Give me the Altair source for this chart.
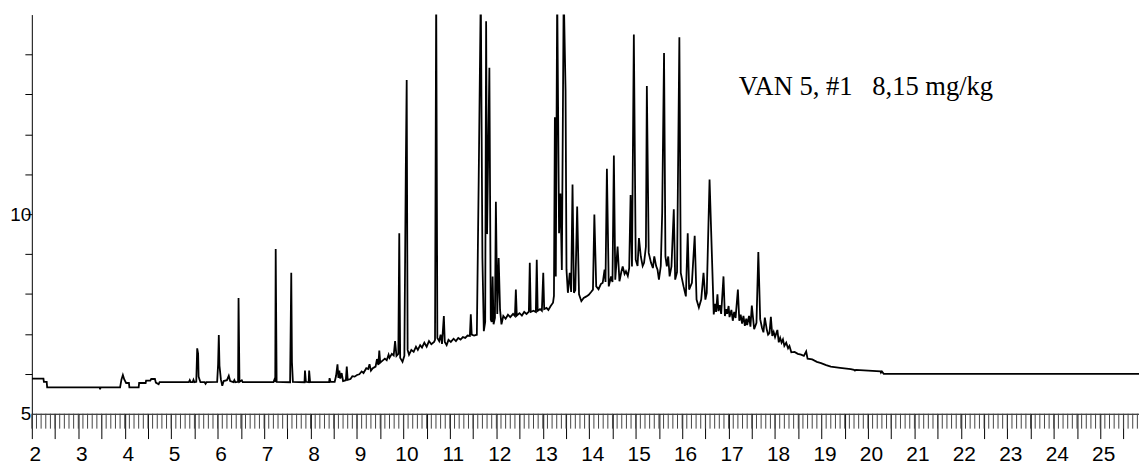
import altair as alt
import pandas as pd

# retention time (min) and detector signal
rt = [
    2.00, 2.25, 2.26, 2.32, 2.33, 3.46, 3.47, 3.48, 3.90, 3.93, 3.96, 3.99, 4.03, 4.09, 4.10,
    4.30, 4.31, 4.45, 4.46, 4.55, 4.57, 4.65, 4.67, 4.73, 4.75, 5.38, 5.40, 5.42, 5.46, 5.48,
    5.50, 5.54, 5.56, 5.58, 5.59, 5.61, 5.63, 5.72, 5.74, 5.76, 5.99, 6.01, 6.025, 6.04, 6.07,
    6.10, 6.13, 6.20, 6.24, 6.27, 6.34, 6.36, 6.38, 6.44, 6.45, 6.47, 6.52, 6.54, 7.20, 7.22,
    7.24, 7.25, 7.27, 7.56, 7.585, 7.60, 7.62, 7.87, 7.88, 7.90, 7.96, 7.97, 7.99, 8.40, 8.41,
    8.43, 8.52, 8.55, 8.58, 8.60, 8.62, 8.64, 8.67, 8.70, 8.76, 8.78, 8.80, 8.86, 8.90, 8.95,
    9.00, 9.05, 9.10, 9.14, 9.20, 9.24, 9.27, 9.30, 9.34, 9.40, 9.43, 9.46, 9.48, 9.50, 9.55,
    9.60, 9.64, 9.68, 9.70, 9.75, 9.79, 9.82, 9.85, 9.89, 9.91, 9.93, 9.98, 10.02, 10.05, 10.07,
    10.09, 10.12, 10.17, 10.22, 10.27, 10.31, 10.36, 10.40, 10.45, 10.50, 10.55, 10.60, 10.66, 10.68, 10.705,
    10.73, 10.77, 10.80, 10.83, 10.87, 10.89, 10.93, 10.97, 11.02, 11.08, 11.13, 11.18, 11.23, 11.28, 11.33,
    11.38, 11.43, 11.45, 11.47, 11.52, 11.58, 11.62, 11.665, 11.70, 11.73, 11.76, 11.78, 11.80, 11.85, 11.88,
    11.90, 11.92, 11.94, 11.97, 11.99, 12.02, 12.05, 12.08, 12.11, 12.15, 12.20, 12.25, 12.30, 12.36, 12.40,
    12.42, 12.44, 12.50, 12.55, 12.60, 12.65, 12.70, 12.72, 12.74, 12.80, 12.85, 12.87, 12.89, 12.94, 12.98,
    13.01, 13.03, 13.08, 13.12, 13.17, 13.22, 13.24, 13.26, 13.28, 13.31, 13.35, 13.38, 13.41, 13.45, 13.49,
    13.51, 13.54, 13.58, 13.61, 13.64, 13.67, 13.70, 13.74, 13.78, 13.83, 13.88, 13.94, 13.99, 14.04, 14.08,
    14.11, 14.15, 14.20, 14.25, 14.29, 14.33, 14.35, 14.38, 14.42, 14.47, 14.50, 14.53, 14.56, 14.61, 14.65,
    14.69, 14.72, 14.76, 14.79, 14.83, 14.86, 14.89, 14.92, 14.96, 15.00, 15.04, 15.07, 15.11, 15.15, 15.18,
    15.22, 15.24, 15.28, 15.33, 15.37, 15.40, 15.44, 15.47, 15.50, 15.54, 15.57, 15.61, 15.64, 15.67, 15.70,
    15.73, 15.77, 15.82, 15.85, 15.89, 15.94, 15.97, 16.03, 16.08, 16.12, 16.15, 16.21, 16.27, 16.31, 16.36,
    16.41, 16.46, 16.50, 16.53, 16.59, 16.63, 16.68, 16.71, 16.73, 16.76, 16.78, 16.81, 16.84, 16.89, 16.92,
    16.95, 16.97, 17.00, 17.02, 17.06, 17.09, 17.12, 17.15, 17.20, 17.23, 17.26, 17.29, 17.32, 17.35, 17.38,
    17.40, 17.44, 17.47, 17.50, 17.55, 17.60, 17.64, 17.68, 17.72, 17.75, 17.78, 17.82, 17.85, 17.88, 17.91,
    17.94, 17.97, 18.00, 18.05, 18.08, 18.11, 18.14, 18.17, 18.20, 18.24, 18.28, 18.31, 18.35, 18.42, 18.49,
    18.56, 18.62, 18.67, 18.70, 18.80, 18.90, 18.99, 19.10, 19.20, 19.40, 19.63, 19.70, 19.72, 19.74, 20.27,
    20.28, 20.30, 20.34, 25.84,
]

signal = [
    5.88, 5.88, 5.80, 5.80, 5.66, 5.66, 5.61, 5.66, 5.66, 5.86, 5.97, 5.86, 5.77, 5.77, 5.66,
    5.66, 5.77, 5.77, 5.83, 5.83, 5.87, 5.87, 5.78, 5.74, 5.79, 5.79, 5.84, 5.79, 5.79, 5.85,
    5.79, 5.80, 6.64, 6.50, 5.93, 5.86, 5.79, 5.79, 5.75, 5.79, 5.80, 6.24, 6.97, 6.20, 5.86,
    5.70, 5.82, 5.84, 5.95, 5.82, 5.79, 5.84, 5.79, 5.80, 7.90, 5.80, 5.84, 5.79, 5.79, 5.85,
    5.80, 9.13, 5.80, 5.79, 8.53, 6.29, 5.80, 5.79, 6.08, 5.80, 5.79, 6.08, 5.80, 5.79, 5.89,
    5.80, 5.80, 5.95, 6.24, 5.90, 6.08, 5.88, 6.02, 5.82, 5.84, 6.18, 5.85, 5.87, 5.94, 5.93,
    5.97, 5.99, 6.06, 6.02, 6.14, 6.12, 6.24, 6.08, 6.14, 6.18, 6.37, 6.22, 6.58, 6.28, 6.33,
    6.38, 6.34, 6.48, 6.40, 6.50, 6.46, 6.82, 6.45, 6.50, 9.52, 6.40, 6.30, 6.45, 11.02, 13.36,
    6.60, 6.48, 6.60, 6.55, 6.68, 6.60, 6.72, 6.66, 6.78, 6.68, 6.82, 6.74, 6.80, 6.85, 15.6,
    6.90, 6.82, 6.98, 6.75, 7.45, 6.80, 6.72, 6.85, 6.80, 6.88, 6.82, 6.90, 6.86, 6.92, 6.90,
    6.96, 6.95, 7.49, 6.98, 6.96, 6.98, 10.85, 15.6, 8.90, 7.07, 7.30, 14.83, 9.50, 13.67, 7.36,
    7.30, 8.44, 7.24, 7.40, 10.31, 7.50, 8.90, 7.60, 7.24, 7.45, 7.38, 7.48, 7.42, 7.50, 7.45,
    8.11, 7.46, 7.52, 7.46, 7.55, 7.50, 7.56, 8.78, 7.55, 7.58, 7.55, 8.86, 7.58, 7.62, 7.58,
    8.53, 7.62, 7.65, 7.60, 7.70, 7.78, 7.95, 12.43, 8.44, 15.6, 9.52, 10.52, 8.60, 15.6, 13.10,
    8.61, 8.03, 8.53, 8.05, 10.74, 8.03, 8.10, 10.19, 7.99, 7.82, 7.90, 7.94, 7.98, 8.05, 8.11,
    9.99, 8.19, 8.12, 8.25, 8.28, 8.61, 8.30, 11.14, 8.19, 8.44, 8.30, 11.47, 8.36, 9.19, 8.32,
    8.55, 8.69, 8.50, 8.57, 8.45, 8.65, 10.48, 8.69, 14.50, 8.86, 8.70, 9.40, 8.94, 8.70, 8.78,
    9.19, 13.21, 9.03, 8.78, 8.65, 8.94, 8.70, 8.61, 8.36, 8.70, 10.02, 14.04, 8.94, 8.69, 8.94,
    8.44, 8.69, 10.12, 8.36, 8.55, 14.43, 8.53, 8.19, 7.94, 9.52, 8.11, 8.28, 9.46, 7.86, 7.66,
    7.86, 8.53, 7.86, 8.03, 10.87, 9.36, 7.49, 7.75, 7.55, 7.99, 7.57, 7.72, 7.50, 8.44, 7.45,
    7.62, 7.50, 7.70, 7.42, 7.60, 7.33, 7.55, 7.40, 8.11, 7.33, 7.48, 7.26, 7.45, 7.20, 7.38,
    7.22, 7.45, 7.18, 7.71, 7.12, 7.28, 9.05, 7.37, 7.15, 7.04, 7.41, 7.12, 6.98, 7.02, 7.43,
    6.95, 7.05, 6.92, 7.10, 6.79, 6.90, 6.78, 6.86, 6.70, 6.78, 6.64, 6.70, 6.54, 6.55, 6.50,
    6.48, 6.45, 6.56, 6.38, 6.36, 6.30, 6.27, 6.22, 6.18, 6.15, 6.12, 6.10, 6.08, 6.10, 6.06,
    6.03, 6.06, 6.00, 6.00,
]

x_major_ticks = [2 + 0.5 * i for i in range(48)]            # long ticks every 0.5 min
x_minor_ticks = [round(2 + 0.1 * i, 1) for i in range(239)]  # short ticks every 0.1 min
y_ticks = [5, 6, 7, 8, 9, 10, 11, 12, 13, 14]
annotation = ["VAN 5, #1\u00a0\u00a0\u00a08,15 mg/kg"]

df = pd.DataFrame({"rt": rt, "signal": signal})
ticks_df = pd.DataFrame({"rt": x_minor_ticks})
ann_df = pd.DataFrame({"label": annotation})

W, H = 1115, 402
xscale = alt.Scale(domain=[2, 25.835], nice=False, zero=False)
yscale = alt.Scale(domain=[5, 15], nice=False, zero=False)

x_axis = alt.Axis(
    values=x_major_ticks,
    labelExpr="abs(datum.value - round(datum.value)) < 0.01 ? format(round(datum.value), 'd') : ''",
    tickSize=25, tickColor="black", tickWidth=1,
    domainColor="black", domainWidth=1,
    labelFont="Liberation Sans", labelFontSize=21, labelColor="black",
    labelPadding=5, labelOffset=3, labelFlush=False, labelOverlap=False,
    labelAngle=0, grid=False, title=None,
)

y_axis = alt.Axis(
    values=y_ticks,
    labelExpr="(datum.value == 5 || datum.value == 10) ? format(datum.value, 'd') : ''",
    tickSize=7, tickColor="black", tickWidth=1,
    tickOpacity={"condition": {"test": "datum.value == 5", "value": 0}, "value": 1},
    domainColor="black", domainWidth=1,
    labelFont="Liberation Sans", labelFontSize=19, labelColor="black",
    labelPadding=-6, labelFlush=False, labelOverlap=False,
    grid=False, title=None,
)

line = alt.Chart(df).mark_line(color="black", strokeWidth=1.8, clip=True).encode(
    x=alt.X("rt:Q", scale=xscale, axis=x_axis),
    y=alt.Y("signal:Q", scale=yscale, axis=y_axis),
)

minor = alt.Chart(ticks_df).mark_rule(color="#444", strokeWidth=1).encode(
    x=alt.X("rt:Q", scale=xscale, axis=x_axis),
    y=alt.value(H),
    y2=alt.value(H + 15),
)

txt = alt.Chart(ann_df).mark_text(
    align="left", baseline="alphabetic", font="Liberation Serif", fontSize=26.7, color="black"
).encode(
    x=alt.value(712),
    y=alt.value(81),
    text="label:N",
)

chart = alt.layer(line, minor, txt).properties(
    width=W,
    height=H,
    autosize=alt.AutoSizeParams(type="none"),
    padding={"left": 24, "top": 5, "right": 0, "bottom": 50},
).configure_view(stroke=None)

chart.save("out.html", embed_options={"renderer": "svg", "actions": False})
